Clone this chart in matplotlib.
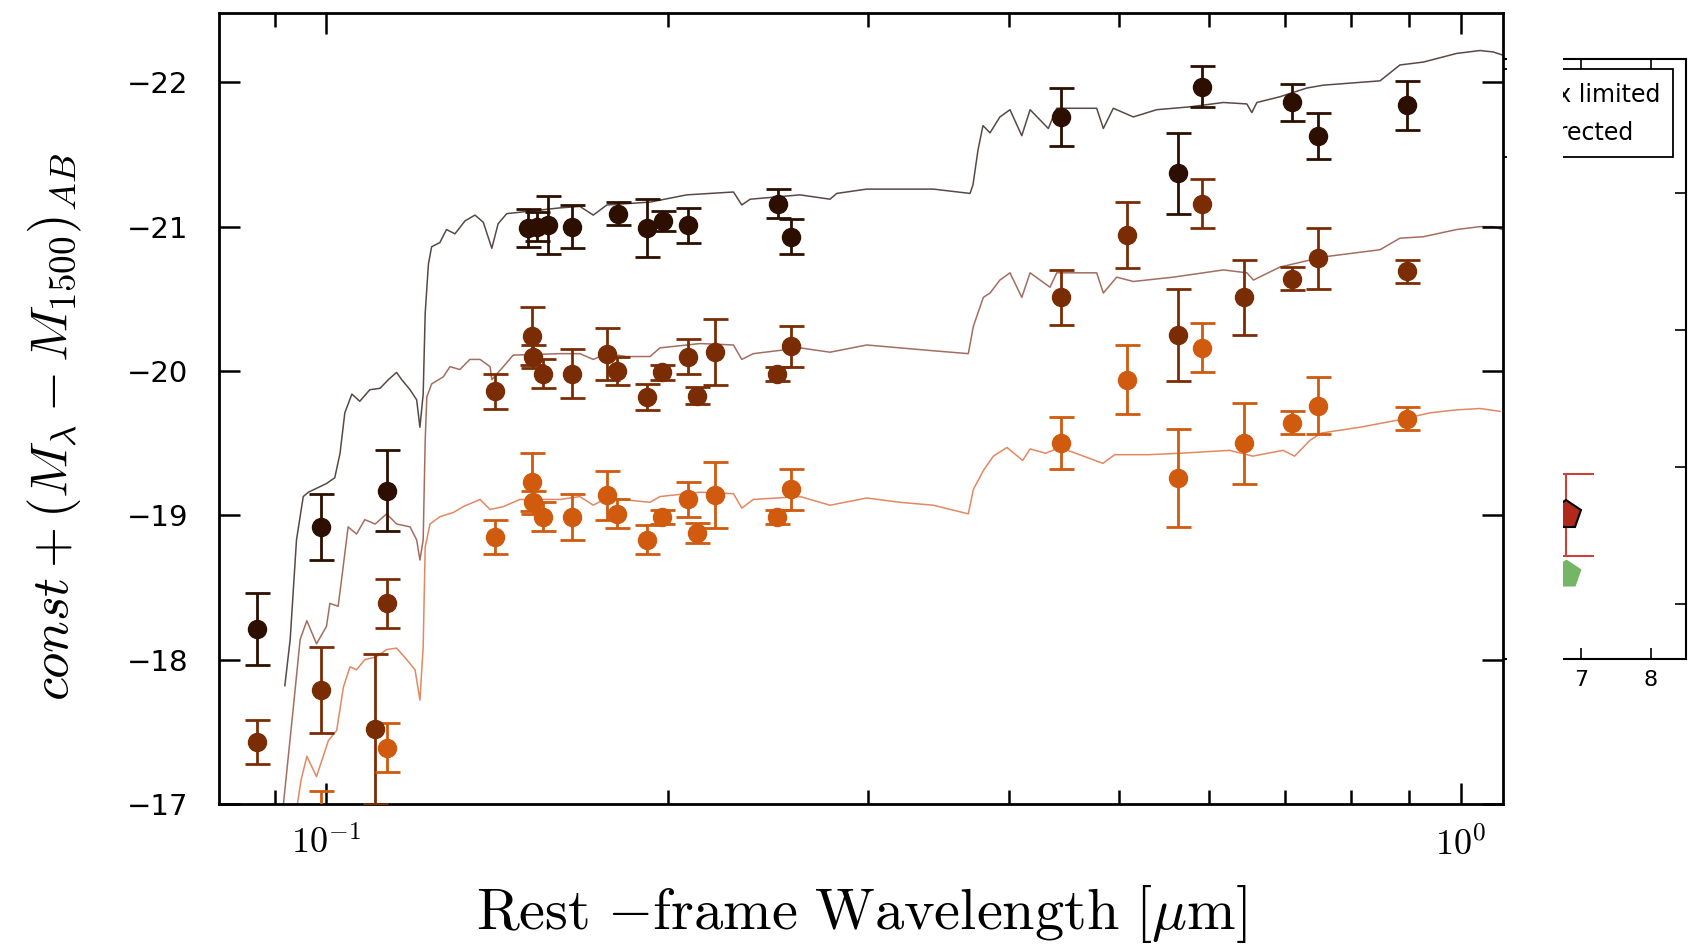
import numpy as np
import matplotlib
matplotlib.use('Agg')
import matplotlib.pyplot as plt
from matplotlib.ticker import FuncFormatter, NullFormatter, LogLocator
from matplotlib.patches import Rectangle

plt.rcParams['mathtext.fontset'] = 'cm'
plt.rcParams['font.family'] = ['DejaVu Sans']

# model SEDs, rest-frame wavelength [micron] and magnitude
#
lam_sed_top = [0.0919, 0.0929, 0.0941, 0.0954, 0.0964, 0.1000, 0.1017, 0.1028, 0.1038, 0.1053,
               0.1070, 0.1092, 0.1115, 0.1134, 0.1153, 0.1165, 0.1185, 0.1201, 0.1209, 0.1217,
               0.1222, 0.1230, 0.1238, 0.1259, 0.1276, 0.1298, 0.1325, 0.1352, 0.1375, 0.1399,
               0.1417, 0.1442, 0.1607, 0.1673, 0.1719, 0.1767, 0.1929, 0.2078, 0.2285, 0.2324,
               0.2364, 0.2616, 0.2780, 0.2818, 0.2995, 0.3428, 0.3694, 0.3716, 0.3754, 0.3792,
               0.3847, 0.3925, 0.4006, 0.4103, 0.4173, 0.4330, 0.4405, 0.4777, 0.4842, 0.4941,
               0.5146, 0.5396, 0.5774, 0.6179, 0.6480, 0.6546, 0.6613, 0.6931, 0.7317, 0.7568,
               0.8492, 0.8842, 0.9272, 0.9922, 1.0404, 1.0688, 1.0879]
mag_sed_top = [-17.82, -18.14, -18.83, -19.13, -19.16, -19.22, -19.26, -19.43, -19.71, -19.84,
               -19.79, -19.87, -19.88, -19.94, -19.99, -19.94, -19.87, -19.80, -19.61, -19.84,
               -20.40, -20.74, -20.86, -20.89, -20.98, -20.95, -21.04, -21.08, -21.03, -20.85,
               -21.02, -21.09, -21.13, -21.14, -21.08, -21.15, -21.17, -21.22, -21.24, -21.15,
               -21.19, -21.22, -21.19, -21.23, -21.26, -21.26, -21.23, -21.29, -21.53, -21.70,
               -21.65, -21.76, -21.81, -21.63, -21.81, -21.68, -21.82, -21.82, -21.68, -21.82,
               -21.76, -21.81, -21.83, -21.86, -21.85, -21.79, -21.86, -21.90, -21.96, -21.98,
               -22.01, -22.12, -22.14, -22.20, -22.22, -22.21, -22.19]

lam_sed_mid = [0.0915, 0.0935, 0.0948, 0.0961, 0.0980, 0.1000, 0.1007, 0.1024, 0.1031, 0.1045,
               0.1063, 0.1081, 0.1104, 0.1130, 0.1153, 0.1185, 0.1201, 0.1209, 0.1217, 0.1222,
               0.1226, 0.1238, 0.1268, 0.1285, 0.1311, 0.1338, 0.1366, 0.1394, 0.1399, 0.1432,
               0.1461, 0.1607, 0.1673, 0.1719, 0.1767, 0.1840, 0.1929, 0.1968, 0.2136, 0.2285,
               0.2324, 0.2379, 0.2495, 0.2616, 0.2780, 0.2995, 0.3204, 0.3428, 0.3681, 0.3719,
               0.3795, 0.3847, 0.3925, 0.4006, 0.4103, 0.4173, 0.4345, 0.4405, 0.4777, 0.4842,
               0.4975, 0.5146, 0.5581, 0.6179, 0.6480, 0.6567, 0.6931, 0.7568, 0.8492, 0.8842,
               0.9272, 0.9922, 1.0404, 1.0688, 1.0879]
mag_sed_mid = [-16.95, -17.67, -18.14, -18.27, -18.11, -18.23, -18.39, -18.37, -18.55, -18.92,
               -18.87, -18.97, -18.94, -19.01, -18.94, -18.92, -18.83, -18.69, -18.83, -19.52,
               -19.82, -19.91, -19.96, -20.03, -20.01, -20.08, -20.08, -20.03, -19.94, -20.03,
               -20.11, -20.12, -20.12, -20.08, -20.12, -20.10, -20.10, -20.16, -20.19, -20.18,
               -20.08, -20.12, -20.14, -20.16, -20.13, -20.18, -20.16, -20.14, -20.12, -20.31,
               -20.51, -20.54, -20.63, -20.68, -20.51, -20.68, -20.58, -20.68, -20.68, -20.54,
               -20.65, -20.62, -20.65, -20.70, -20.68, -20.63, -20.72, -20.79, -20.84, -20.92,
               -20.93, -20.98, -21.00, -21.00, -20.98]

lam_sed_low = [0.0941, 0.0950, 0.0961, 0.0980, 0.1004, 0.1021, 0.1035, 0.1049, 0.1063, 0.1081,
               0.1107, 0.1130, 0.1153, 0.1177, 0.1197, 0.1209, 0.1217, 0.1222, 0.1234, 0.1259,
               0.1294, 0.1320, 0.1366, 0.1394, 0.1432, 0.1481, 0.1607, 0.1673, 0.1719, 0.1767,
               0.1929, 0.1968, 0.2136, 0.2285, 0.2324, 0.2379, 0.2495, 0.2616, 0.2780, 0.2995,
               0.3204, 0.3428, 0.3681, 0.3719, 0.3795, 0.3873, 0.3982, 0.4110, 0.4173, 0.4306,
               0.4434, 0.4838, 0.4955, 0.5312, 0.5655, 0.6257, 0.6556, 0.6974, 0.7140, 0.7367,
               0.7540, 0.8151, 0.8808, 0.9399, 0.9899, 1.0404, 1.0835]
mag_sed_low = [-16.96, -17.17, -17.33, -17.19, -17.44, -17.51, -17.81, -17.95, -17.93, -18.00,
               -18.02, -18.07, -18.08, -18.00, -17.93, -17.72, -18.09, -18.78, -18.94, -18.99,
               -19.02, -19.06, -19.11, -19.04, -19.06, -19.11, -19.11, -19.13, -19.07, -19.12,
               -19.09, -19.13, -19.16, -19.15, -19.05, -19.11, -19.12, -19.13, -19.07, -19.12,
               -19.09, -19.07, -19.01, -19.18, -19.31, -19.41, -19.47, -19.38, -19.46, -19.43,
               -19.47, -19.36, -19.42, -19.42, -19.43, -19.45, -19.41, -19.45, -19.41, -19.52,
               -19.57, -19.61, -19.66, -19.71, -19.73, -19.74, -19.72]

# photometry of the three stacks
#
lam_dark = [0.0868, 0.0990, 0.1130, 0.1506, 0.1533, 0.1568, 0.1646, 0.1807, 0.1917, 0.1980,
            0.2083, 0.2501, 0.2568, 0.4444, 0.5638, 0.5916, 0.7099, 0.7491, 0.8966]
mag_dark = [-18.21, -18.92, -19.17, -20.99, -21.00, -21.01, -21.00, -21.09, -20.99, -21.04,
            -21.01, -21.16, -20.93, -21.76, -21.37, -21.97, -21.86, -21.63, -21.84]
err_dark = [0.25, 0.23, 0.28, 0.13, 0.10, 0.20, 0.15, 0.08, 0.20, 0.07,
            0.12, 0.10, 0.12, 0.20, 0.28, 0.14, 0.13, 0.16, 0.17]

lam_mid = [0.0868, 0.0990, 0.1104, 0.1130, 0.1409, 0.1517, 0.1521, 0.1553, 0.1645, 0.1767,
           0.1803, 0.1916, 0.1975, 0.2084, 0.2121, 0.2201, 0.2495, 0.2566, 0.4444, 0.5078,
           0.5638, 0.5916, 0.6441, 0.7099, 0.7491, 0.8966]
mag_mid = [-17.43, -17.79, -17.52, -18.39, -19.86, -20.24, -20.10, -19.98, -19.98, -20.12,
           -20.00, -19.82, -19.99, -20.10, -19.83, -20.13, -19.98, -20.17, -20.51, -20.94,
           -20.25, -21.16, -20.51, -20.64, -20.78, -20.69]
err_mid = [0.15, 0.30, 0.52, 0.17, 0.12, 0.20, 0.08, 0.10, 0.17, 0.18,
           0.10, 0.09, 0.05, 0.12, 0.06, 0.23, 0.05, 0.14, 0.19, 0.23,
           0.32, 0.17, 0.26, 0.08, 0.21, 0.08]

lam_low = [0.0868, 0.0990, 0.1104, 0.1130, 0.1409, 0.1517, 0.1521, 0.1553, 0.1645, 0.1767,
           0.1803, 0.1916, 0.1975, 0.2084, 0.2121, 0.2201, 0.2495, 0.2566, 0.4444, 0.5078,
           0.5638, 0.5916, 0.6441, 0.7099, 0.7491, 0.8966]
mag_low = [-16.43, -16.79, -16.52, -17.39, -18.85, -19.23, -19.09, -18.99, -18.99, -19.14,
           -19.01, -18.83, -18.99, -19.11, -18.88, -19.14, -18.99, -19.18, -19.50, -19.94,
           -19.26, -20.16, -19.50, -19.64, -19.76, -19.67]
err_low = [0.15, 0.30, 0.45, 0.17, 0.12, 0.20, 0.08, 0.10, 0.16, 0.17,
           0.10, 0.10, 0.05, 0.12, 0.07, 0.23, 0.05, 0.14, 0.18, 0.24,
           0.34, 0.17, 0.28, 0.08, 0.20, 0.08]

# neighbouring panel, only its right edge is visible
#
frag_x = [6.78]
frag_red = [1.65]
frag_red_err = [0.30]
frag_green = [1.225]
frag_labels = ['Flux limited', 'corrected']

col_dark, col_mid, col_low = '#2d0f00', '#7a2d05', '#d05a0e'

fig = plt.figure(figsize=(16.93, 9.47), dpi=100)

# right-hand panel first, the main panel is put on top of it
frag = fig.add_axes([1450 / 1693, 288 / 947, 236 / 1693, 600 / 947])
frag.set_zorder(0)
frag.set_xlim(5.129, 8.5)
frag.set_ylim(0.601, 4.98)
frag.errorbar(frag_x, frag_red, yerr=frag_red_err, fmt='none', ecolor='#c9433b',
              elinewidth=1.5, capsize=20, capthick=1.5, zorder=2)
frag.plot(frag_x, frag_red, 'p', ms=22, mfc='#b02a1c', mec='black', mew=1.5, zorder=3)
frag.plot(frag_x, frag_green, 'p', ms=22, mfc='#74b566', mec='none', zorder=3)
frag.add_patch(Rectangle((5.3, 4.265), 8.314 - 5.3, 4.904 - 4.265, facecolor='white',
                         edgecolor='black', lw=1.3, zorder=4))
frag.text(6.157, 4.72, frag_labels[0], fontsize=17, va='center', ha='left', zorder=5)
frag.text(6.157, 4.44, frag_labels[1], fontsize=17, va='center', ha='left', zorder=5)
frag.set_xticks([7, 8])
frag.set_yticks([1, 2, 3, 4])
frag.tick_params(axis='x', direction='in', top=True, bottom=True, length=8, width=1.2,
                 labelsize=16, pad=8)
frag.tick_params(axis='y', direction='in', left=False, right=True, labelleft=False,
                 length=8, width=1.2)
frag.spines['left'].set_visible(False)
for s in ['top', 'right', 'bottom']:
    frag.spines[s].set_linewidth(1.5)

# blank strip between the two panels
fig.add_artist(Rectangle((1507 / 1693, 0), (1563 - 1507) / 1693, 1, transform=fig.transFigure,
                         facecolor='white', edgecolor='none', zorder=1))

# main panel
ax = fig.add_axes([219 / 1693, 143 / 947, 1284 / 1693, 791 / 947])
ax.set_zorder(3)
ax.set_xscale('log')

ax.plot(lam_sed_top, mag_sed_top, color='#3a2a24', lw=1.1, alpha=0.85, zorder=1)
ax.plot(lam_sed_mid, mag_sed_mid, color='#8c4a3a', lw=1.1, alpha=0.8, zorder=1)
ax.plot(lam_sed_low, mag_sed_low, color='#dc6a3c', lw=1.1, alpha=0.8, zorder=1)

for lam, mag, err, c in [(lam_dark, mag_dark, err_dark, col_dark),
                         (lam_mid, mag_mid, err_mid, col_mid),
                         (lam_low, mag_low, err_low, col_low)]:
    ax.errorbar(lam, mag, yerr=err, fmt='o', color=c, ms=13, elinewidth=2,
                capsize=9, capthick=2, zorder=3)

ax.set_xlim(0.0804, 1.090)
ax.set_ylim(-17, -22.48)
ax.set_yticks([-22, -21, -20, -19, -18, -17])

ax.xaxis.set_major_locator(LogLocator(base=10))
ax.xaxis.set_major_formatter(FuncFormatter(lambda v, p: r'$10^{%d}$' % round(np.log10(v))))
ax.xaxis.set_minor_formatter(NullFormatter())

ax.tick_params(which='both', direction='in', top=True, right=True)
ax.tick_params(which='major', length=15, width=1.8)
ax.tick_params(which='minor', length=10, width=1.8)
ax.tick_params(axis='y', labelsize=21, pad=22)
ax.tick_params(axis='x', labelsize=26, pad=16)
for s in ax.spines.values():
    s.set_linewidth(2.0)

ax.set_xlabel(r'$\mathrm{Rest\ {-}frame\ Wavelength\ [\mu m]}$', fontsize=42)
ax.xaxis.set_label_coords(0.5, -0.1)
ax.set_ylabel(r'$const+(M_{\lambda}-M_{1500})_{AB}$', fontsize=38)
ax.yaxis.set_label_coords(-0.105, 0.477)

fig.savefig('out.png', dpi=100)
